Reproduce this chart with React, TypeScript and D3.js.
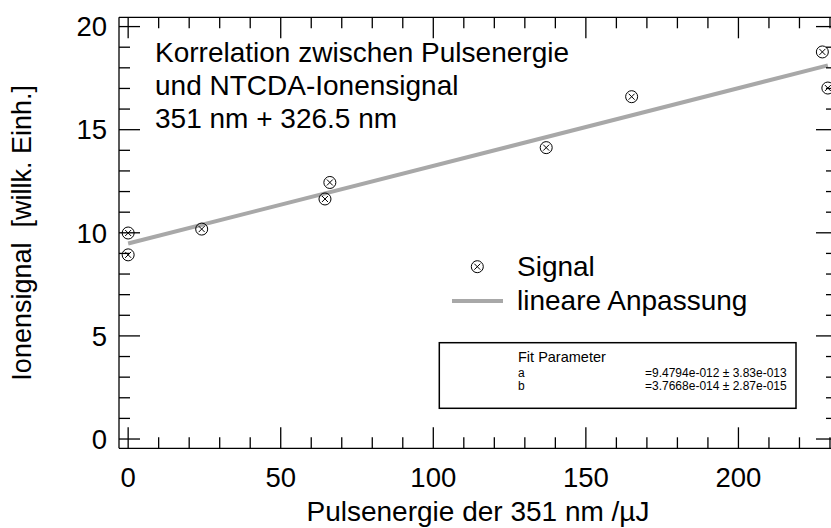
import React from "react";
import * as d3 from "d3";

const signalX = [0, 0, 24.1, 64.5, 66.1, 137, 165, 227.5, 229.3];
const signalY = [9.99, 8.93, 10.18, 11.64, 12.44, 14.13, 16.6, 18.77, 17.02];
const fitA = 9.4794;
const fitB = 0.037668;
const xMajor = [0, 50, 100, 150, 200];
const yMajor = [0, 5, 10, 15, 20];
const textLines = ["Korrelation zwischen Pulsenergie", "und NTCDA-Ionensignal", "351 nm + 326.5 nm"];
const fitRows = [
  ["a", "=9.4794e-012 ± 3.83e-013"],
  ["b", "=3.7668e-014 ± 2.87e-015"],
];

const W = 831;
const H = 528;
const FONT = "'Liberation Sans', Arial, Helvetica, sans-serif";

export default function App() {
  const x = d3.scaleLinear().domain([-3, 232.3]).range([119, 837]);
  const y = d3.scaleLinear().domain([-0.45, 20.45]).range([448.3, 17.3]);
  const [x0, x1] = x.range();
  const [yb, yt] = y.range();

  const xMinor = d3.range(0, 240, 10);
  const yMinor = d3.range(0, 21, 1);
  const isMajX = (v: number) => v % 50 === 0;
  const isMajY = (v: number) => v % 5 === 0;
  const minorLen = 11;
  const majorLen = 21;

  const fitXs = [0, d3.max(signalX) as number];
  const line = d3
    .line<number>()
    .x((d) => x(d))
    .y((d) => y(fitA + fitB * d));

  const marker = (cx: number, cy: number, key: string) => (
    <g key={key} transform={`translate(${cx},${cy})`} stroke="#000" strokeWidth={1} fill="none">
      <circle r={6} />
      <line x1={-3} y1={-3} x2={3} y2={3} />
      <line x1={-3} y1={3} x2={3} y2={-3} />
    </g>
  );

  return (
    <svg
      width={W}
      height={H}
      style={{ position: "absolute", left: 0, top: 0, background: "#fff", overflow: "hidden" }}
      fontFamily={FONT}
    >
      <rect x={0} y={0} width={W} height={H} fill="#fff" />
      {/* fit line */}
      <path d={line(fitXs) || ""} stroke="#a8a8a8" strokeWidth={4} fill="none" />
      {/* frame */}
      <g stroke="#000" strokeWidth={1.3} fill="none">
        <line x1={x0} y1={yb} x2={x1} y2={yb} />
        <line x1={x0} y1={yt} x2={x1} y2={yt} />
        <line x1={x0} y1={yb} x2={x0} y2={yt} />
        <line x1={x1} y1={yb} x2={x1} y2={yt} />
        {xMinor.map((v) => {
          const L = isMajX(v) ? majorLen : minorLen;
          return (
            <g key={"xt" + v}>
              <line x1={x(v)} y1={yb} x2={x(v)} y2={yb - L} />
              <line x1={x(v)} y1={yt} x2={x(v)} y2={yt + L} />
            </g>
          );
        })}
        {yMinor.map((v) => {
          const L = isMajY(v) ? majorLen : minorLen;
          return (
            <g key={"yt" + v}>
              <line x1={x0} y1={y(v)} x2={x0 + L} y2={y(v)} />
              <line x1={x1} y1={y(v)} x2={x1 - L} y2={y(v)} />
            </g>
          );
        })}
      </g>
      {/* tick labels */}
      <g fontSize={27.5} fill="#000">
        {xMajor.map((v) => (
          <text key={"xl" + v} x={x(v)} y={487} textAnchor="middle">
            {v}
          </text>
        ))}
        {yMajor.map((v) => (
          <text key={"yl" + v} x={107} y={y(v) + 9.8} textAnchor="end">
            {v}
          </text>
        ))}
      </g>
      {/* axis titles */}
      <text x={(x0 + x1) / 2} y={521} textAnchor="middle" fontSize={28}>
        Pulsenergie der 351 nm /µJ
      </text>
      <text
        transform={`translate(31,${(yb + yt) / 2}) rotate(-90)`}
        textAnchor="middle"
        fontSize={27}
        style={{ whiteSpace: "pre" }}
      >
        {"Ionensignal  [willk. Einh.]"}
      </text>
      {/* markers */}
      {signalX.map((v, i) => marker(x(v), y(signalY[i]), "m" + i))}
      {/* annotation */}
      <g fontSize={28}>
        {textLines.map((t, i) => (
          <text key={"t" + i} x={155} y={62 + i * 33}>
            {t}
          </text>
        ))}
      </g>
      {/* legend */}
      {marker(477.3, 266.7, "leg")}
      <text x={517} y={276} fontSize={28}>
        Signal
      </text>
      <line x1={452} y1={301} x2={503} y2={301} stroke="#a8a8a8" strokeWidth={4} />
      <text x={517} y={310} fontSize={28}>
        lineare Anpassung
      </text>
      {/* fit box */}
      <rect x={439.3} y={342.7} width={356.7} height={65.6} fill="#fff" stroke="#000" strokeWidth={1.5} />
      <text x={518} y={362.2} fontSize={14.5}>
        Fit Parameter
      </text>
      <g fontSize={12}>
        {fitRows.map((r, i) => (
          <g key={"fr" + i}>
            <text x={518} y={376.5 + i * 13.5}>
              {r[0]}
            </text>
            <text x={645} y={376.5 + i * 13.5}>
              {r[1]}
            </text>
          </g>
        ))}
      </g>
    </svg>
  );
}
